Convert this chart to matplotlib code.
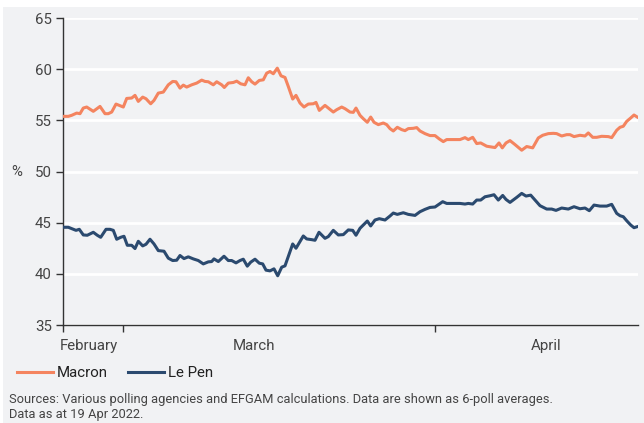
import numpy as np
import matplotlib

matplotlib.use('Agg')
import matplotlib.pyplot as plt
from matplotlib.lines import Line2D
from matplotlib.patches import Rectangle

plt.rcParams['font.family'] = ['Roboto', 'DejaVu Sans']

colors = {
    "Macron": '#f4845f',
    "Le Pen": '#2b4a6f',
}
BG = '#f1f2f4'

# x is a time position along the axis (0 = first poll shown)
macron_t = [0.3, 5.3, 8.7, 13.7, 17, 20.3, 23.7, 30.3, 37, 42, 45.3, 48.7, 53, 60.3, 63.7,
            68.7, 72, 75.3, 79.7, 83, 87.7, 91, 95.3, 100.3, 105.3, 109.7, 113, 117, 120.3,
            123.7, 128.7, 133.7, 138.7, 142, 145.3, 150.3, 153.7, 158.7, 161.3, 165.3, 170.3,
            173.7, 177.7, 182, 185.3, 188.7, 192, 196.3, 200.3, 203.7, 207, 210.3, 214.3, 218,
            222, 225.3, 229.7, 233, 237, 241, 245.3, 250.3, 253, 256.3,
            262, 270.3, 273.7, 278.7, 282, 287, 290.3, 293, 297, 300.3, 304.3, 307.7, 311,
            315.3, 320.3, 323.7, 327, 330.3, 334.3, 338.7, 342, 345.3, 350.3, 353.7, 357, 362,
            367, 372, 376.3, 380.3, 383.7, 390.3, 397, 402, 405.3, 409.7, 413.7, 417.7, 423.7,
            430.3, 432, 436, 439.3, 443, 447, 452, 458.7, 463.7, 469.7, 475.3, 479.7, 485.3,
            490.3, 493.7, 498.7, 503.7, 507, 511, 517, 522, 525.3, 529.7, 533.7, 538.7, 545.3,
            548.7, 553.7, 557, 560.3, 563.7, 567.7, 571, 574.3]
macron = [55.39, 55.39, 55.49, 55.71, 55.65, 56.2, 56.3, 55.88, 56.36, 55.65, 55.65, 55.81,
          56.59, 56.3, 57.14, 57.18, 57.44, 56.85, 57.27, 57.11, 56.62, 56.95, 57.66, 57.76,
          58.47, 58.8, 58.77, 58.15, 58.44, 58.25, 58.47, 58.64, 58.93, 58.8, 58.77, 58.47,
          58.77, 58.47, 58.21, 58.64, 58.7, 58.83, 58.57, 58.47, 59.16, 58.77, 58.54, 58.9,
          58.96, 59.61, 59.77, 59.55, 60.1, 59.35, 59.19, 58.31, 57.08, 57.44, 56.69, 56.3,
          56.59, 56.62, 56.75, 55.97,
          56.46, 55.81, 56.04, 56.3, 56.14, 55.81, 55.78, 56.2, 55.49, 55.16, 54.81, 55.32,
          54.81, 54.58, 54.74, 54.58, 54.19, 53.96, 54.32, 54.09, 53.99, 54.19, 54.22, 54.29,
          53.96, 53.7, 53.51, 53.51, 53.18, 52.92, 53.12, 53.12, 53.12, 53.31, 53.12, 53.34,
          52.73, 52.79, 52.47, 52.37, 52.34, 52.79, 52.31, 52.79, 53.02, 52.63, 52.08, 52.44,
          52.31, 53.28, 53.54, 53.7, 53.73, 53.7, 53.47, 53.6, 53.6, 53.41, 53.54, 53.47,
          53.77, 53.34, 53.34, 53.44, 53.41, 53.31, 54.03, 54.32, 54.42, 54.9, 55.23, 55.52,
          55.32]

lepen_t = [0.3, 5.3, 9.7, 13, 16.3, 20.3, 24.3, 30.3, 34.3, 37.7, 43, 47, 50.3, 53.7, 57.7,
           61, 64.3, 68.7, 72, 75.3, 79.7, 83, 87, 91, 95.3, 101, 105.3, 109.7, 113.7, 117,
           121, 125.3, 130.3, 135.3, 140.3, 145.3, 148.7, 151, 155.3, 161, 165.3, 168.7, 173,
           177, 180.3, 184.3, 187.7, 192, 196.3, 199.7, 203, 207, 211, 214.7, 218.7, 222,
           225.3, 229.7, 233, 237, 240.3, 243.7, 248.7, 252, 256,
           262, 265.3, 270.3, 275.3, 280.3, 285.3, 289.7, 293, 297, 300.3, 304.3, 307.7, 312,
           316.3, 322, 327, 330.3, 334.3, 340.3, 345.3, 352, 357, 362, 367, 372, 375.3, 379.7,
           383.7, 390.3, 397, 402, 405.3, 409.7, 413.7, 417.7, 422, 427, 431, 435.3, 439.7,
           443, 447, 453.7, 458.7, 463, 467.7, 472, 477, 483.7, 488.7, 493, 498.7, 505.3, 511,
           517, 522, 526.3, 531, 537, 543.7, 548.7, 553.7, 557, 560.3, 563.7, 567.7, 571,
           574.3]
lepen = [44.55, 44.55, 44.38, 44.25, 44.35, 43.8, 43.77, 44.06, 43.77, 43.57, 44.35, 44.35,
         44.25, 43.38, 43.57, 43.67, 42.79, 42.79, 42.47, 43.18, 42.73, 42.89, 43.38, 42.92,
         42.27, 42.21, 41.53, 41.3, 41.33, 41.79, 41.49, 41.66, 41.46, 41.3, 40.97, 41.17,
         41.2, 41.46, 41.2, 41.72, 41.3, 41.3, 41.07, 41.3, 41.43, 40.75, 41.14, 41.43, 41.04,
         40.97, 40.36, 40.29, 40.49, 39.81, 40.65, 40.78, 41.69, 42.92, 42.5, 43.15, 43.7,
         43.41, 43.34, 43.28, 44.06,
         43.47, 43.64, 44.25, 43.8, 43.83, 44.29, 44.25, 43.77, 44.45, 44.77, 45.16, 44.68,
         45.26, 45.39, 45.26, 45.65, 45.94, 45.81, 45.97, 45.81, 45.71, 46.07, 46.3, 46.49,
         46.53, 46.75, 47.05, 46.88, 46.88, 46.88, 46.82, 46.88, 46.82, 47.21, 47.21, 47.53,
         47.63, 47.73, 47.21, 47.66, 47.27, 46.98, 47.47, 47.86, 47.6, 47.69, 47.21, 46.66,
         46.33, 46.33, 46.2, 46.43, 46.33, 46.56, 46.36, 46.43, 46.17, 46.72, 46.62, 46.62,
         46.79, 45.91, 45.68, 45.58, 45.19, 44.77, 44.51, 44.61]

month_ticks = [0, 60, 372]
month_label_pos = [26, 191.5, 483.5]
month_labels = ["February", "March", "April"]
y_ticks = [35, 40, 45, 50, 55, 60, 65]

W, H = 644, 423
fig = plt.figure(figsize=(W / 100, H / 100), dpi=100)
fig.patch.set_facecolor('white')
fig.patches.append(Rectangle((3 / W, 0), 1, 1 - 7 / H, transform=fig.transFigure,
                             facecolor=BG, edgecolor='none', zorder=-10))

ax = fig.add_axes([63 / W, 1 - 325 / H, 575 / W, 307 / H])
ax.set_facecolor(BG)

ax.plot(macron_t, macron, color=colors["Macron"], lw=2.2, solid_joinstyle='round', zorder=3)
ax.plot(lepen_t, lepen, color=colors["Le Pen"], lw=2.2, solid_joinstyle='round', zorder=3)

ax.set_xlim(0, 575)
ax.set_ylim(35, 65)
ax.set_yticks(y_ticks)
ax.yaxis.grid(True, color='white', lw=2)
ax.set_axisbelow(True)

ax.set_xticks(month_ticks)
ax.set_xticklabels([])
ax.set_xticks(month_label_pos, minor=True)
ax.set_xticklabels(month_labels, minor=True)
ax.tick_params(axis='x', which='minor', length=0, pad=10, labelsize=10.8, labelcolor='#444444')
ax.tick_params(axis='x', which='major', length=5, width=1, color='#333333')
ax.tick_params(axis='y', length=5, width=1, color='#333333', labelsize=10.8,
               labelcolor='#444444', pad=3)

for s in ['top', 'right']:
    ax.spines[s].set_visible(False)
for s in ['left', 'bottom']:
    ax.spines[s].set_color('#333333')
    ax.spines[s].set_linewidth(1)

fig.text(17 / W, 1 - 172 / H, "%", ha='center', va='center', fontsize=10.8, color='#444444')

handles = [Line2D([], [], color=colors[k], lw=2.2) for k in colors]
fig.legend(handles, list(colors.keys()), loc='center left', bbox_to_anchor=(3 / W, 1 - 373 / H),
           ncol=2, frameon=False, fontsize=10.8, handlelength=2.4, handletextpad=0.3,
           columnspacing=1.3, labelcolor='#222222')

fig.text(9 / W, 1 - 399 / H,
         "Sources: Various polling agencies and EFGAM calculations. Data are shown as 6-poll averages.",
         ha='left', va='center', fontsize=9.3, color='#444444')
fig.text(9 / W, 1 - 414 / H, "Data as at 19 Apr 2022.",
         ha='left', va='center', fontsize=9.3, color='#444444')

fig.savefig("out.png", dpi=100, facecolor=fig.get_facecolor())
